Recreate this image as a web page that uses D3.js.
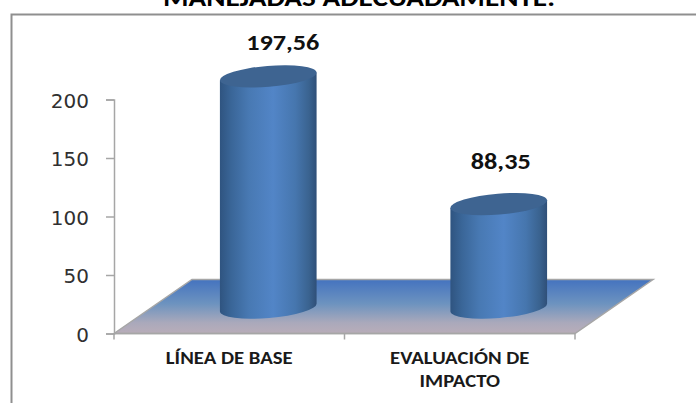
<!DOCTYPE html>
<html>
<head>
<meta charset="utf-8">
<script src="https://cdn.jsdelivr.net/npm/d3@7"></script>
<style>
  html, body { margin: 0; padding: 0; background: #fff; overflow: hidden; }
</style>
</head>
<body>
<div id="chart"></div>
<script>
const title = "MANEJADAS ADECUADAMENTE.";
const categories = ["LÍNEA DE BASE", "EVALUACIÓN DE IMPACTO"];
const categoryLines = [["LÍNEA DE BASE"], ["EVALUACIÓN DE", "IMPACTO"]];
const values = [197.56, 88.35];
const valueLabels = ["197,56", "88,35"];
const yTicks = [0, 50, 100, 150, 200];

const width = 696;
const height = 403;
const marginLeft = 114;
const plotRight = 575;
const yBottom = 333.5;
const yTop = 99.5;
const depthX = 78;
const depthY = 54;
const rx = 48.5;
const ry = 10.5;
const tilt = -4.7;
const axisColor = "#a6a6a6";
// hand placed data labels, same as in the original
const labelNudge = [[14.5, -26], [2, -35]];

const x = d3.scaleBand()
  .domain(categories)
  .range([marginLeft, plotRight]);

const y = d3.scaleLinear()
  .domain([0, 200])
  .range([yBottom, yTop]);

const svg = d3.select("#chart")
  .append("svg")
    .attr("width", width)
    .attr("height", height)
    .attr("viewBox", [0, 0, width, height])
    .style("display", "block")
    .style("font-family", "Carlito, Lato, 'Open Sans', sans-serif");

const defs = svg.append("defs");

const floorGrad = defs.append("linearGradient")
  .attr("id", "floor")
  .attr("x1", 0).attr("y1", 0).attr("x2", 0).attr("y2", 1);
floorGrad.selectAll("stop")
  .data([[0, "#4473bf"], [0.45, "#6d93bf"], [0.8, "#aaa9bb"], [1, "#b9adb9"]])
  .join("stop")
    .attr("offset", d => d[0])
    .attr("stop-color", d => d[1]);

const bodyGrad = defs.append("linearGradient")
  .attr("id", "body")
  .attr("x1", 0).attr("y1", 0).attr("x2", 1).attr("y2", 0);
bodyGrad.selectAll("stop")
  .data([[0, "#2f5480"], [0.12, "#3a6698"], [0.3, "#4879b3"], [0.55, "#5285c7"], [0.78, "#4676ae"], [0.92, "#3a6390"], [1, "#2f4f78"]])
  .join("stop")
    .attr("offset", d => d[0])
    .attr("stop-color", d => d[1]);

// frame runs off the page on the right and bottom
svg.append("rect")
  .attr("x", 11.5)
  .attr("y", 14.5)
  .attr("width", 700)
  .attr("height", 400)
  .attr("fill", "#fff")
  .attr("stroke", "#8f8f8f")
  .attr("stroke-width", 2);

// the text in the original is stretched sideways
const stretched = (sel, px, py, sx) => sel
  .attr("text-anchor", "middle")
  .attr("transform", `translate(${px},${py}) scale(${sx},1)`);

svg.append("text")
  .call(stretched, width / 2 + 11, 6, 1.17)
  .attr("font-size", 25)
  .attr("font-weight", "bold")
  .attr("fill", "#000")
  .text(title);

// floor
const floor = d3.path();
floor.moveTo(x.range()[0], y(0));
floor.lineTo(x.range()[0] + depthX, y(0) - depthY);
floor.lineTo(x.range()[1] + depthX, y(0) - depthY);
floor.lineTo(x.range()[1], y(0));
floor.closePath();

svg.append("path")
  .attr("d", floor.toString())
  .attr("fill", "url(#floor)")
  .attr("stroke", axisColor)
  .attr("stroke-width", 1.5);

// axes
svg.append("g")
  .attr("transform", `translate(${marginLeft},0)`)
  .call(d3.axisLeft(y).tickValues(yTicks).tickSize(8).tickPadding(17))
  .call(g => g.selectAll("path, line").attr("stroke", axisColor).attr("stroke-width", 1.5))
  .call(g => g.selectAll("text")
    .attr("font-family", "'DejaVu Sans', sans-serif")
    .attr("font-size", 20)
    .attr("dy", "0.38em")
    .attr("fill", "#303030"));

const xAxis = svg.append("g")
  .attr("transform", `translate(0,${yBottom})`);
xAxis.append("line")
  .attr("x1", x.range()[0])
  .attr("x2", x.range()[1])
  .attr("stroke", axisColor)
  .attr("stroke-width", 1.5);
xAxis.selectAll("line.tick")
  .data([...categories.map(d => x(d)), x.range()[1]])
  .join("line")
    .attr("class", "tick")
    .attr("x1", d => d)
    .attr("x2", d => d)
    .attr("y2", 6)
    .attr("stroke", axisColor)
    .attr("stroke-width", 1.5);

xAxis.selectAll("g.cat")
  .data(categories)
  .join("g")
    .attr("class", "cat")
  .selectAll("text")
  .data((d, i) => categoryLines[i].map(t => ({ t, c: d })))
  .join("text")
    .each(function(d, i) {
      d3.select(this).call(stretched, x(d.c) + x.bandwidth() / 2, 30.5 + i * 22.7, 1.22);
    })
    .attr("font-size", 17)
    .attr("font-weight", "bold")
    .attr("fill", "#1a1a1a")
    .text(d => d.t);

// cylinders stand half way into the floor depth
const cx = d => x(d) + x.bandwidth() / 2 + depthX / 2;
const baseY = yOf => yOf - depthY / 2 + 1;

const rad = tilt * Math.PI / 180;
const edgeDx = rx * Math.cos(rad);
const edgeDy = rx * Math.sin(rad);

const bars = svg.append("g")
  .selectAll("g")
  .data(categories.map((c, i) => ({ c, v: values[i], label: valueLabels[i], nudge: labelNudge[i] })))
  .join("g");

bars.append("path")
  .attr("fill", "url(#body)")
  .attr("d", d => {
    const c = cx(d.c);
    const top = baseY(y(d.v));
    const bot = baseY(y(0));
    return `M${c - edgeDx},${top - edgeDy}` +
      `L${c - edgeDx},${bot - edgeDy}` +
      `A${rx},${ry} ${tilt} 0 0 ${c + edgeDx},${bot + edgeDy}` +
      `L${c + edgeDx},${top + edgeDy}Z`;
  });

bars.append("ellipse")
  .attr("rx", rx)
  .attr("ry", ry)
  .attr("fill", "#3e6491")
  .attr("transform", d => `translate(${cx(d.c)},${baseY(y(d.v))}) rotate(${tilt})`);

bars.append("text")
  .each(function(d) {
    d3.select(this).call(stretched, cx(d.c) + d.nudge[0], baseY(y(d.v)) + d.nudge[1], 1.14);
  })
  .attr("font-size", 23)
  .attr("font-weight", "bold")
  .attr("fill", "#111")
  .text(d => d.label);
</script>
</body>
</html>
